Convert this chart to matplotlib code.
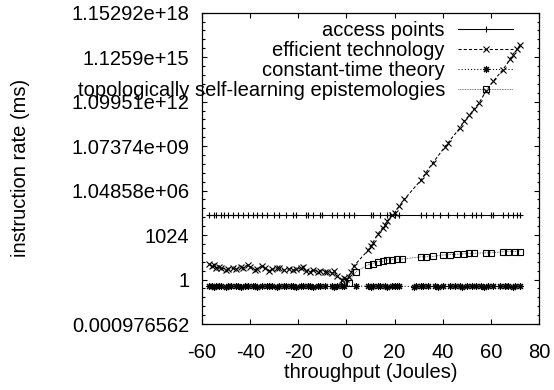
import numpy as np
import matplotlib
matplotlib.use("Agg")
import matplotlib.pyplot as plt
from matplotlib.ticker import FixedLocator, NullLocator, NullFormatter

plt.rcParams['font.family'] = ['Liberation Sans', 'DejaVu Sans']
plt.rcParams['font.size'] = 14.5
plt.rcParams['axes.unicode_minus'] = False

# values; y values are kept as log2 exponents
access_x = [-57, -55, -54, -52, -51, -49, -47, -45, -43, -41, -39, -37, -35, -33, -30, -28, -25, -22,
            -21, -17, -16, -14, -11, -10, -6, -4, -1, 1, 3, 10, 11, 14, 17, 18, 20, 22, 31, 33, 36, 39,
            42, 46, 49, 52, 54, 56, 60, 61, 65, 67, 69, 71, 72]
access_log2 = [14.6, 14.6, 14.6, 14.6, 14.6, 14.6, 14.6, 14.6, 14.6, 14.6, 14.6, 14.6, 14.6, 14.6,
               14.6, 14.6, 14.6, 14.6, 14.6, 14.6, 14.6, 14.6, 14.6, 14.6, 14.6, 14.6, 14.6, 14.6,
               14.6, 14.6, 14.6, 14.6, 14.6, 14.6, 14.6, 14.6, 14.6, 14.6, 14.6, 14.6, 14.6, 14.6,
               14.6, 14.6, 14.6, 14.6, 14.6, 14.6, 14.6, 14.6, 14.6, 14.6, 14.6]

eff_x = [-57, -56, -55, -54, -53, -52, -50, -49, -47, -46, -44, -43, -41, -40, -38, -37, -35, -34,
         -32, -31, -29, -28, -26, -24, -22, -21, -19, -18, -17, -15, -14, -12, -11, -9, -8, -6, -5,
         -4, -2, -1, 0, 1, 2, 3, 9, 10, 11, 13, 15, 16, 17, 19, 20, 22, 24, 31, 33, 36, 41, 42, 47,
         49, 51, 53, 55, 58, 61, 65, 68, 69, 71, 72]
eff_log2 = [3.4, 3.0, 3.3, 2.6, 2.9, 2.7, 2.2, 2.4, 2.5, 2.3, 2.8, 2.6, 3.3, 2.9, 2.2, 2.4, 3.1, 2.7,
            2.0, 2.3, 2.5, 2.6, 2.1, 2.4, 2.1, 2.3, 2.5, 2.8, 1.9, 1.7, 2.2, 1.8, 2.0, 1.8, 1.7, 1.5, 1.9,
            0.8, 0.0, 0.3, 0.1, 0.6, 1.6, 3.0, 6.6, 7.6, 8.3, 10.2, 11.6, 12.3, 13.2, 14.5, 15.0, 16.6,
            18.0, 22.4, 24.0, 26.3, 29.9, 30.6, 34.0, 35.6, 36.9, 38.3, 39.6, 42.4, 44.6, 47.2, 49.5,
            50.6, 51.8, 52.7]

const_x = [-57, -56, -55, -54, -53, -52, -50, -49, -48, -46, -45, -44, -42, -41, -39, -38, -37, -35,
           -33, -32, -31, -29, -28, -26, -25, -23, -22, -21, -19, -18, -16, -15, -14, -12, -11, -9,
           -6, -5, -4, -2, -1, 4, 9, 10, 11, 13, 14, 16, 17, 19, 20, 21, 22, 28, 29, 31, 32, 34, 37,
           38, 40, 43, 45, 47, 48, 50, 52, 54, 56, 57, 59, 61, 64, 66, 67, 69, 70, 72]
const_log2 = [-1.5, -1.4, -1.6, -1.5, -1.5, -1.4, -1.6, -1.5, -1.5, -1.4, -1.5, -1.6, -1.5, -1.5,
              -1.4, -1.5, -1.6, -1.5, -1.5, -1.4, -1.5, -1.6, -1.5, -1.5, -1.4, -1.5, -1.5, -1.6,
              -1.5, -1.4, -1.5, -1.5, -1.6, -1.5, -1.5, -1.4, -1.5, -1.6, -1.5, -1.5, -1.4, -1.5,
              -1.5, -1.6, -1.5, -1.4, -1.5, -1.5, -1.6, -1.5, -1.5, -1.4, -1.5, -1.6, -1.5, -1.5,
              -1.4, -1.5, -1.5, -1.6, -1.5, -1.4, -1.5, -1.5, -1.6, -1.5, -1.5, -1.4, -1.5, -1.6,
              -1.5, -1.5, -1.4, -1.5, -1.5, -1.6, -1.5, -1.5]

topo_x = [-1, 1, 4, 9, 11, 13, 15, 17, 19, 21, 23, 31, 33, 36, 40, 43, 46, 49, 51, 53, 58, 60, 65,
          67, 70, 72]
topo_log2 = [-0.5, -0.7, 1.75, 3.3, 3.6, 4.0, 4.1, 4.4, 4.5, 4.6, 4.6, 5.1, 5.1, 5.2, 5.5, 5.6, 5.7,
             5.8, 5.9, 5.9, 6.0, 6.0, 6.25, 6.25, 6.3, 6.3]

labels = ["access points", "efficient technology", "constant-time theory",
          "topologically self-learning epistemologies"]

y_exps = [-10, 0, 10, 20, 30, 40, 50, 60]
y_ticklabels = ["0.000976562", "1", "1024", "1.04858e+06", "1.07374e+09", "1.09951e+12",
                "1.1259e+15", "1.15292e+18"]
x_ticks = [-60, -40, -20, 0, 20, 40, 60, 80]

fig = plt.figure(figsize=(5.54, 3.90), dpi=100)
ax = fig.add_axes([202 / 554, 1 - 324 / 390, 337 / 554, 311.3 / 390])

lw = 0.75
ms = 4.5
ax.plot(access_x, np.power(2.0, access_log2), color='black', lw=lw, ls='-',
        marker='+', ms=ms, mew=0.8, label=labels[0])
ax.plot(eff_x, np.power(2.0, eff_log2), color='black', lw=lw, ls=(0, (3, 2)),
        marker='x', ms=ms, mew=0.8, label=labels[1])
ax.plot(const_x, np.power(2.0, const_log2), color='black', lw=lw, ls=(0, (1, 2)),
        marker=(8, 2, 0), ms=ms + 0.5, mew=0.8, label=labels[2])
ax.plot(topo_x, np.power(2.0, topo_log2), color='#444444', lw=0.6, ls=(0, (1, 1)),
        marker='s', ms=ms, mew=0.8, mfc='none', mec='black', label=labels[3])

ax.set_yscale('log', base=2)
ax.set_xlim(-60, 80)
ax.set_ylim(2.0 ** -10, 2.0 ** 60)

ax.yaxis.set_major_locator(FixedLocator([2.0 ** e for e in y_exps]))
ax.set_yticklabels(y_ticklabels)
ax.yaxis.set_minor_locator(FixedLocator([2.0 ** e for e in range(-10, 61, 2) if e % 10]))
ax.yaxis.set_minor_formatter(NullFormatter())
ax.set_xticks(x_ticks)
ax.xaxis.set_minor_locator(NullLocator())

ax.tick_params(which='both', direction='in', top=True, right=True, width=0.8, color='black')
ax.tick_params(which='major', length=3.4)
ax.tick_params(which='minor', length=1.8)
ax.tick_params(axis='y', which='both', pad=9)
ax.tick_params(axis='x', which='both', pad=14)
for s in ax.spines.values():
    s.set_linewidth(0.9)

ax.set_xlabel("throughput (Joules)")
ax.set_ylabel("instruction rate (ms)")
ax.xaxis.set_label_coords(0.5, -0.157)
ax.xaxis.label.set_va('center')
ax.yaxis.set_label_coords(-0.54, 0.5)
ax.yaxis.label.set_va('center')

leg = ax.legend(loc='upper right', bbox_to_anchor=(0.923, 0.973), markerfirst=False,
                frameon=False, numpoints=1, handlelength=2.73, handletextpad=0.65,
                labelspacing=0.05, borderpad=0, borderaxespad=0)
for col in leg._legend_handle_box.get_children():
    col.align = 'right'

fig.savefig("out.png", dpi=100)
